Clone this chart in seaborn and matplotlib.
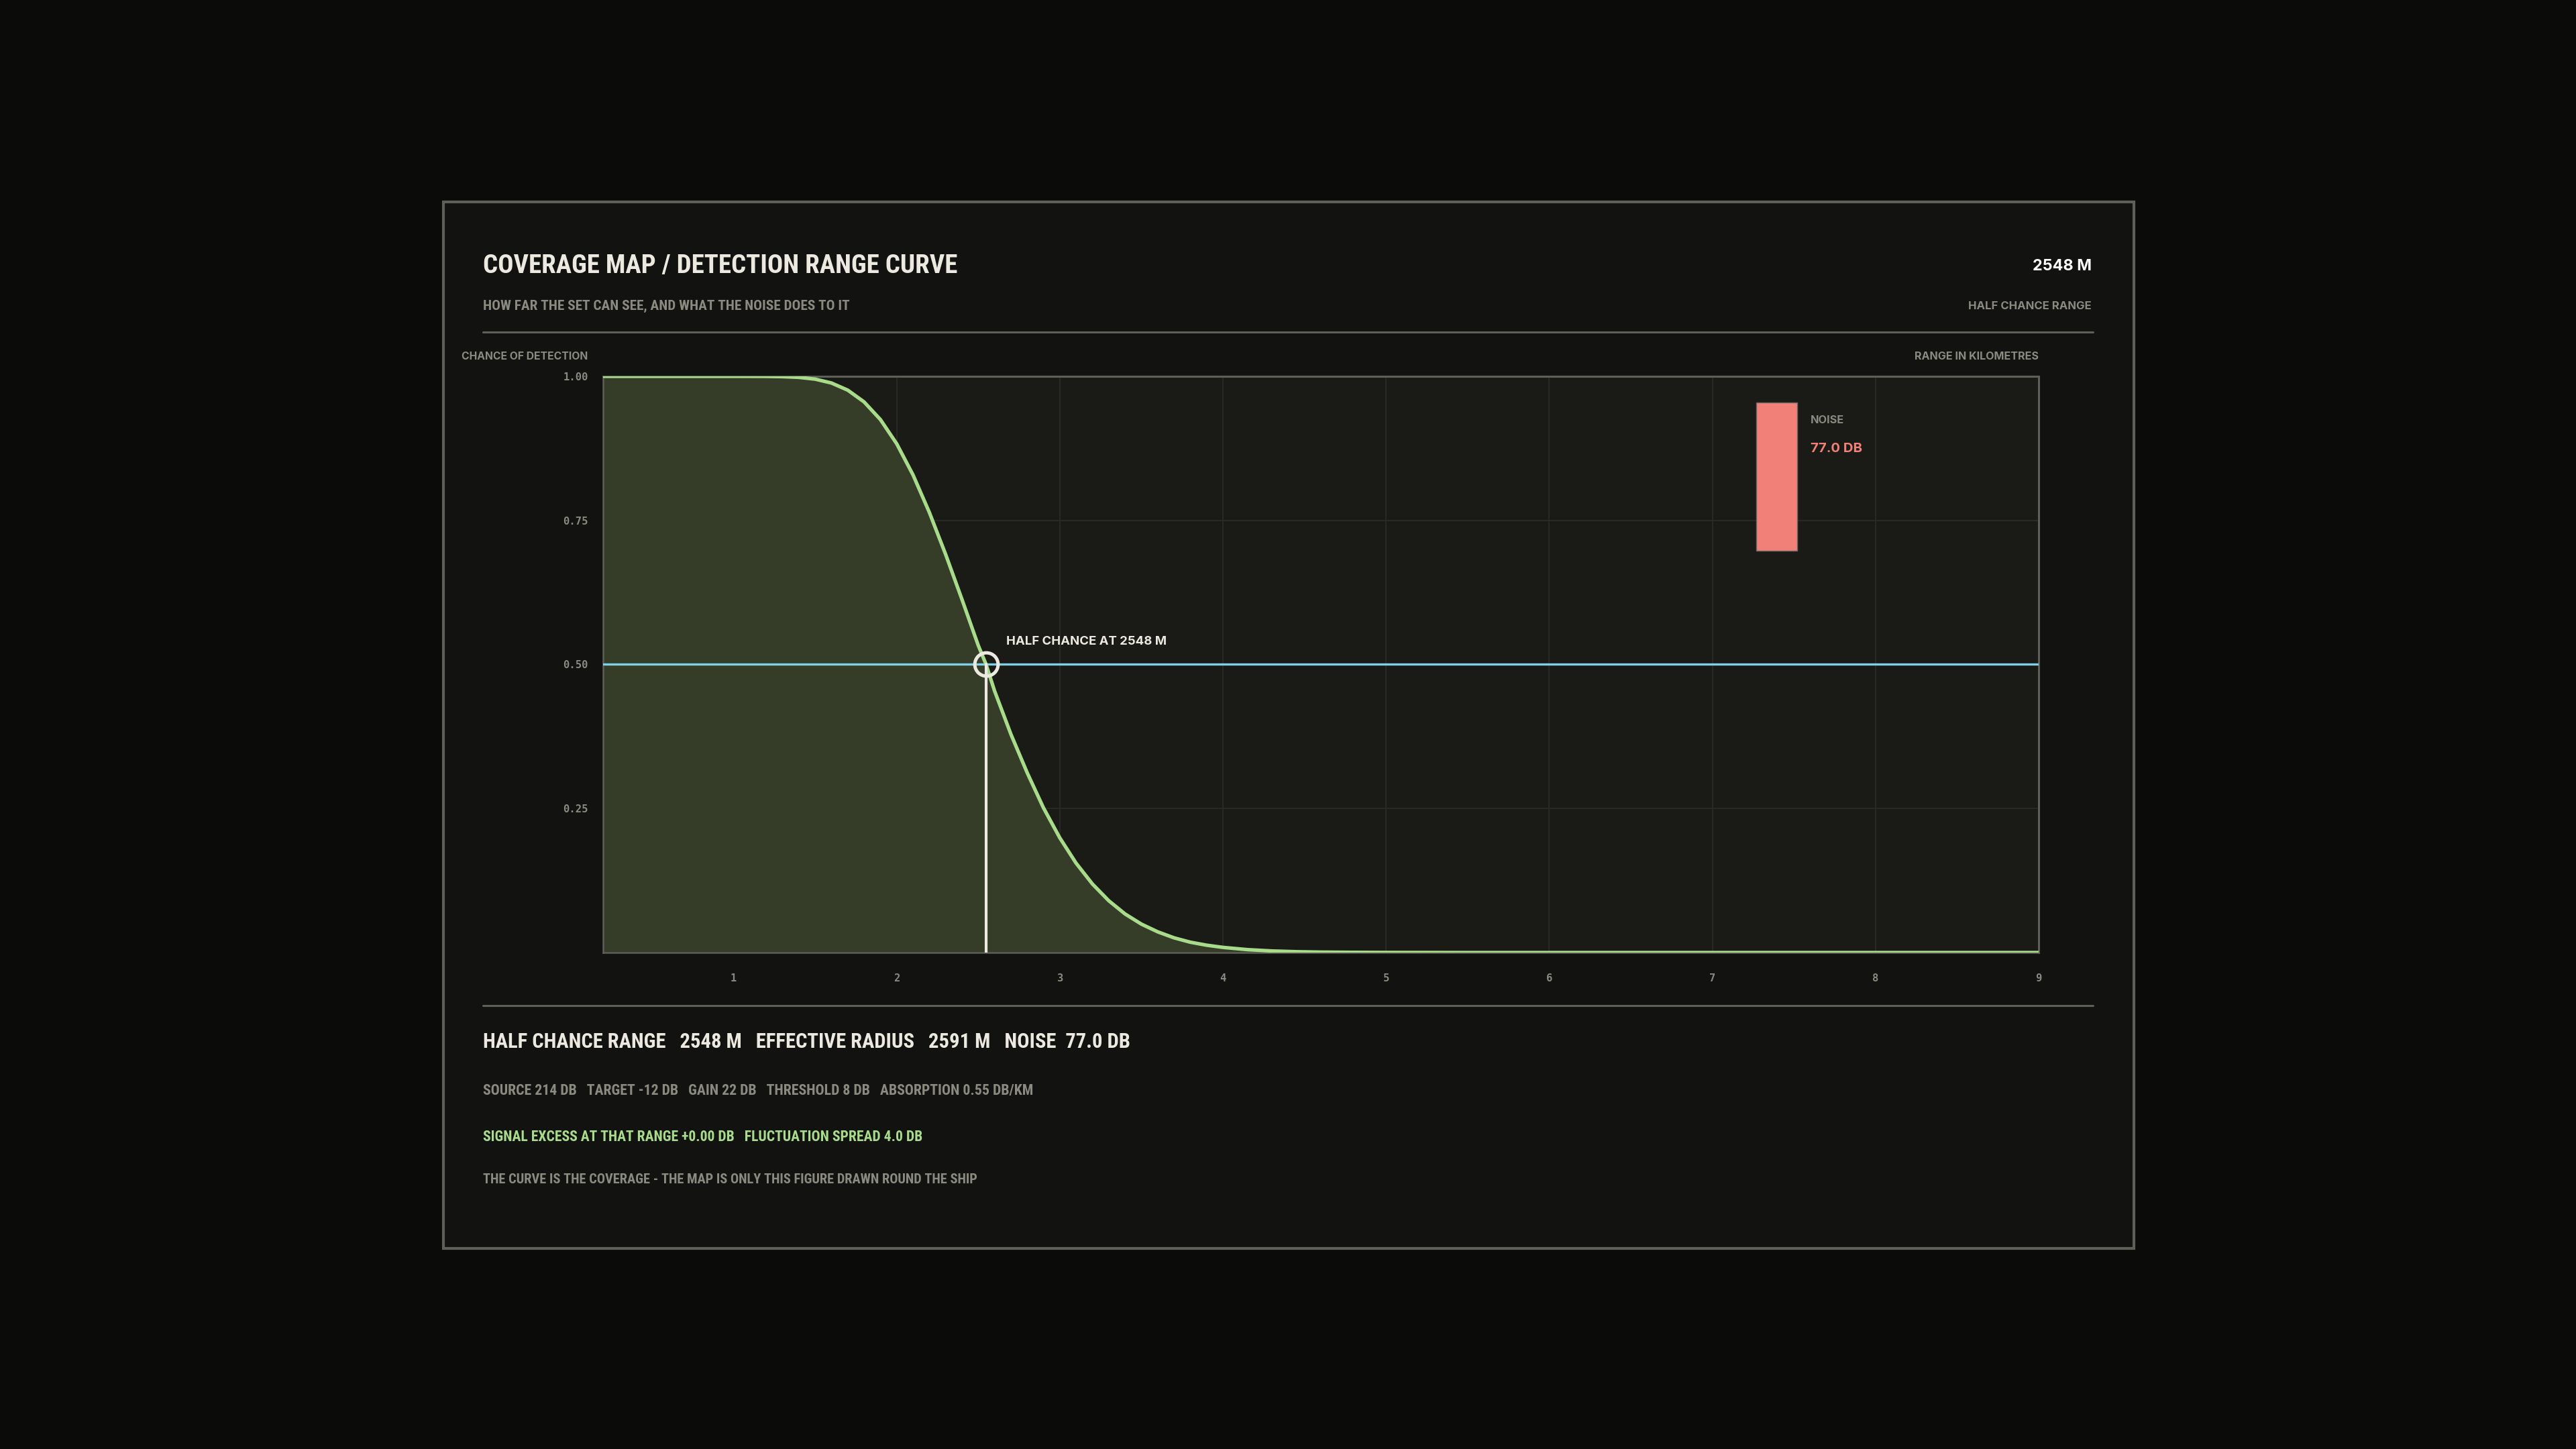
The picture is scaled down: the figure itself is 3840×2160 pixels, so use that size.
import seaborn as sns
import pandas as pd
import numpy as np
import matplotlib.pyplot as plt
from matplotlib import font_manager
from matplotlib.patches import Rectangle
from matplotlib.lines import Line2D

# curve: range (km) vs chance of detection
range_km = [0.2, 0.5, 0.8, 1.0, 1.1, 1.2, 1.3, 1.4, 1.5, 1.6, 1.7, 1.8, 1.9, 2.0, 2.1, 2.2,
            2.3, 2.4, 2.5, 2.548, 2.6, 2.7, 2.8, 2.9, 3.0, 3.1, 3.2, 3.3, 3.4, 3.5, 3.6, 3.7,
            3.8, 3.9, 4.0, 4.15, 4.3, 4.45, 4.6, 4.8, 5.0, 5.5, 6.0, 7.0, 8.0, 9.0]
chance = [1.0, 1.0, 1.0, 1.0, 0.99997, 0.99986, 0.9994, 0.9982, 0.9951, 0.9884, 0.976, 0.9556,
          0.925, 0.883, 0.829, 0.764, 0.691, 0.613, 0.533, 0.5, 0.454, 0.379, 0.312, 0.251,
          0.199, 0.155, 0.119, 0.090, 0.067, 0.0494, 0.036, 0.0256, 0.018, 0.0128, 0.009,
          0.0051, 0.0028, 0.0015, 0.0008, 0.0004, 0.0002, 0.0, 0.0, 0.0, 0.0, 0.0]
half_range_km = 2.548
noise_bar = [7.27, 7.52, 0.697, 0.955]  # x0, x1, y0, y1 of the noise gauge
x_ticks = [1, 2, 3, 4, 5, 6, 7, 8, 9]
y_ticks = [0.25, 0.50, 0.75, 1.00]

BG = "#0b0c09"
PANEL = "#121310"
PLOT = "#1a1b16"
EDGE = "#5e5f57"
GRID = "#2b2c27"
WHITE = "#eceae0"
GREY = "#8a8a80"
GREEN = "#a8dc8a"
FILL = "#353d28"
BLUE = "#7fd0ea"
SALMON = "#f08078"

sns.set_theme(style="dark")
plt.rcParams["font.family"] = ["DejaVu Sans"]

# pick a narrow face for the condensed headings
installed = {f.name for f in font_manager.fontManager.ttflist}
COND_STRETCH = "normal"
COND = None
for name in ["Roboto Condensed", "Liberation Sans Narrow", "Open Sans Condensed", "Noto Sans Condensed"]:
    if name in installed:
        COND = [name, "DejaVu Sans"]
        break
if COND is None:
    COND = ["DejaVu Sans"]
    COND_STRETCH = "condensed"
SANS = ["Inter", "DejaVu Sans"]
MONO = ["DejaVu Sans Mono"]

fig = plt.figure(figsize=(19.2, 10.8), dpi=200, facecolor=BG)
renderer = fig.canvas.get_renderer()


def fit(t, width_px):
    # scale a text so it spans the width it has in the reference
    w = t.get_window_extent(renderer).width
    t.set_fontsize(t.get_fontsize() * width_px / w)
    return t


# outer panel
fig.patches.append(Rectangle((0.1721, 0.1384), 0.65625, 0.7222, transform=fig.transFigure,
                             facecolor=PANEL, edgecolor=EDGE, linewidth=1.5, zorder=-5))
for yy in [0.7708, 0.306]:
    fig.lines.append(Line2D([0.1875, 0.8125], [yy, yy], transform=fig.transFigure,
                            color=EDGE, linewidth=1.1))

# header
fit(fig.text(0.1875, 0.8163, "COVERAGE MAP / DETECTION RANGE CURVE", family=COND, stretch=COND_STRETCH,
             weight="bold", fontsize=12, color=WHITE, va="center"), 708)
fit(fig.text(0.1875, 0.7888, "HOW FAR THE SET CAN SEE, AND WHAT THE NOISE DOES TO IT", family=COND,
             stretch=COND_STRETCH, weight="bold", fontsize=7, color=GREY, va="center"), 551)
fit(fig.text(0.8119, 0.8163, "2548 M", family=SANS, weight="bold", fontsize=9, color="white",
             ha="right", va="center"), 88)
fit(fig.text(0.8119, 0.7888, "HALF CHANCE RANGE", family=SANS, weight="bold", fontsize=6, color=GREY,
             ha="right", va="center"), 184)
fit(fig.text(0.1792, 0.7540, "CHANCE OF DETECTION", family=SANS, weight="bold", fontsize=6, color=GREY,
             ha="left", va="center"), 189)
fit(fig.text(0.7915, 0.7540, "RANGE IN KILOMETRES", family=SANS, weight="bold", fontsize=6, color=GREY,
             ha="right", va="center"), 186)

# plot area
ax = fig.add_axes([0.2341, 0.3426, 0.5573, 0.3977])
ax.set_facecolor(PLOT)
df = pd.DataFrame({"range": range_km, "chance": chance})

ax.fill_between(df["range"], 0, df["chance"], color=FILL, linewidth=0, zorder=1)
sns.lineplot(data=df, x="range", y="chance", ax=ax, color=GREEN, linewidth=1.9, zorder=4)
ax.axhline(0.5, color=BLUE, linewidth=1.2, zorder=3)
ax.plot([half_range_km, half_range_km], [0, 0.5], color=WHITE, linewidth=1.5, zorder=5)
ax.plot([half_range_km], [0.5], marker="o", markersize=12.5, markerfacecolor="none",
        markeredgecolor=WHITE, markeredgewidth=1.8, zorder=6)
fit(ax.text(half_range_km + 0.125, 0.54, "HALF CHANCE AT 2548 M", family=SANS, weight="bold",
            fontsize=6.9, color=WHITE, va="center", zorder=7), 239)

ax.set_xlim(0.2, 9)
ax.set_ylim(0, 1)
ax.set_xticks(x_ticks)
ax.set_yticks(y_ticks)
ax.set_xticklabels([str(t) for t in x_ticks])
ax.set_yticklabels([f"{t:.2f}" for t in y_ticks])
ax.set_xlabel("")
ax.set_ylabel("")
ax.grid(True, color=GRID, linewidth=0.6, zorder=0)
ax.set_axisbelow(True)
ax.tick_params(axis="y", length=0, pad=8, colors=GREY, labelsize=5.6)
ax.tick_params(axis="x", length=0, pad=11, colors=GREY, labelsize=5.6)
for lab in ax.get_xticklabels() + ax.get_yticklabels():
    lab.set_family(MONO)
    lab.set_weight("bold")
for s in ax.spines.values():
    s.set_color(EDGE)
    s.set_linewidth(0.9)
ax.spines["top"].set_linewidth(1.1)
ax.spines["right"].set_linewidth(1.1)

# noise gauge
x0, x1, y0, y1 = noise_bar
ax.bar([(x0 + x1) / 2], [y1 - y0], bottom=[y0], width=x1 - x0, color=SALMON,
       edgecolor="#6a6a62", linewidth=0.5, zorder=5)
fit(ax.text(x1 + 0.08, 0.924, "NOISE", family=SANS, weight="bold", fontsize=5.6, color=GREY,
            va="center"), 50)
fit(ax.text(x1 + 0.08, 0.874, "77.0 DB", family=SANS, weight="bold", fontsize=6.6, color=SALMON,
            va="center"), 77)

# footer
fit(fig.text(0.1875, 0.2810, "HALF CHANCE RANGE   2548 M   EFFECTIVE RADIUS   2591 M   NOISE  77.0 DB",
             family=COND, stretch=COND_STRETCH, weight="bold", fontsize=10, color=WHITE, va="center"), 967)
fit(fig.text(0.1875, 0.2470,
             "SOURCE 214 DB   TARGET -12 DB   GAIN 22 DB   THRESHOLD 8 DB   ABSORPTION 0.55 DB/KM",
             family=COND, stretch=COND_STRETCH, weight="bold", fontsize=7, color=GREY, va="center"), 823)
fit(fig.text(0.1875, 0.2153, "SIGNAL EXCESS AT THAT RANGE +0.00 DB   FLUCTUATION SPREAD 4.0 DB",
             family=COND, stretch=COND_STRETCH, weight="bold", fontsize=7, color=GREEN, va="center"), 659)
fit(fig.text(0.1875, 0.1858, "THE CURVE IS THE COVERAGE - THE MAP IS ONLY THIS FIGURE DRAWN ROUND THE SHIP",
             family=COND, stretch=COND_STRETCH, weight="bold", fontsize=7, color=GREY, va="center"), 745)

fig.savefig("out.png", dpi=200, facecolor=BG)
